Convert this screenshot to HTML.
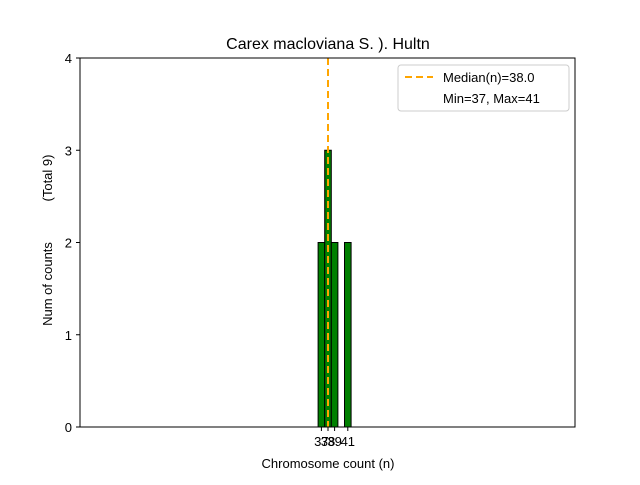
<!DOCTYPE html>
<html><head><meta charset="utf-8"><style>body{margin:0;background:#fff}svg{font-family:"Liberation Sans",sans-serif}</style></head>
<body>
<svg width="640" height="480">
<text x="328" y="49" font-size="16" text-anchor="middle">Carex macloviana S. ). Hultn</text>
<g id="bars"></g>
<line x1="80" y1="427" x2="370" y2="427" stroke="#bbb" stroke-width="1"/>
<line id="median" stroke="orange" stroke-width="2" stroke-dasharray="7,4"/>
<rect x="80" y="58" width="495" height="369" fill="none" stroke="#000" stroke-width="1"/>
<g id="yt"></g><g id="xt"></g>
<text x="328" y="468" font-size="13" text-anchor="middle">Chromosome count (n)</text>
<text transform="translate(52,284) rotate(-90)" font-size="13" text-anchor="middle">Num of counts</text>
<text transform="translate(52,178) rotate(-90)" font-size="13" text-anchor="middle">(Total 9)</text>
<g>
<rect x="398" y="65" width="171" height="46" rx="3" fill="#fff" stroke="#ccc"/>
<line x1="405" y1="77" x2="433" y2="77" stroke="orange" stroke-width="2" stroke-dasharray="7,4"/>
<text x="443" y="82" font-size="13">Median(n)=38.0</text>
<text x="443" y="103" font-size="13">Min=37, Max=41</text>
</g>
</svg>
<script>
const categories=[37,38,39,41];
const counts=[2,3,2,2];
const yTicks=[0,1,2,3,4];
const median=38.0;
const ns="http://www.w3.org/2000/svg";
const X=v=>328+(v-38)*6.6, Y=v=>427-v*92.25;
const bars=document.getElementById('bars');
categories.forEach((c,i)=>{
 const r=document.createElementNS(ns,'rect');
 r.setAttribute('x',X(c)-3.3);r.setAttribute('width',6.6);
 r.setAttribute('y',Y(counts[i]));r.setAttribute('height',Y(0)-Y(counts[i]));
 r.setAttribute('fill','green');r.setAttribute('stroke','#000');r.setAttribute('stroke-width','1');
 
 
 bars.appendChild(r);
 const t=document.createElementNS(ns,'line');
 t.setAttribute('x1',X(c));t.setAttribute('x2',X(c));t.setAttribute('y1',427);t.setAttribute('y2',431);t.setAttribute('stroke','#000');
 document.getElementById('xt').appendChild(t);
 const l=document.createElementNS(ns,'text');
 l.setAttribute('x',X(c));l.setAttribute('y',446);l.setAttribute('font-size','13');l.setAttribute('text-anchor','middle');
 l.textContent=c;
 
 
 document.getElementById('xt').appendChild(l);
});
yTicks.forEach(v=>{
 const t=document.createElementNS(ns,'line');
 t.setAttribute('x1',76);t.setAttribute('x2',80);t.setAttribute('y1',Y(v));t.setAttribute('y2',Y(v));t.setAttribute('stroke','#000');
 document.getElementById('yt').appendChild(t);
 const l=document.createElementNS(ns,'text');
 l.setAttribute('x',72);l.setAttribute('y',Y(v)+5);l.setAttribute('font-size','13');l.setAttribute('text-anchor','end');
 l.textContent=v;
 
 
 document.getElementById('yt').appendChild(l);
});
const m=document.getElementById('median');
m.setAttribute('x1',X(median));m.setAttribute('x2',X(median));m.setAttribute('y1',58);m.setAttribute('y2',427);
</script>
</body></html>
